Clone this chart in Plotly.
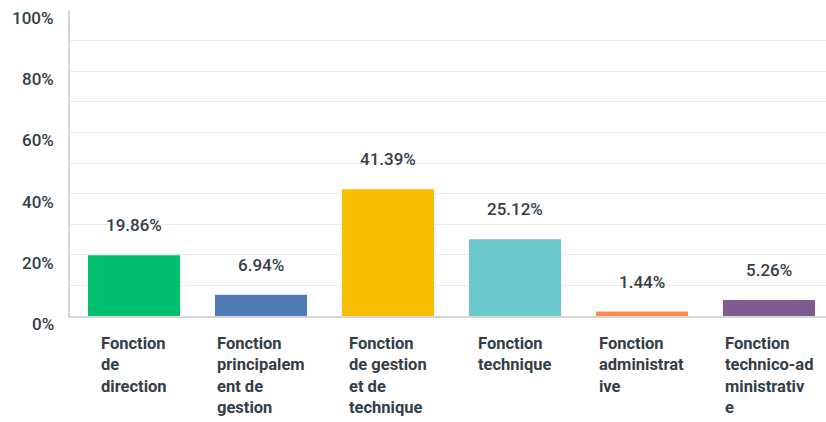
import plotly.graph_objects as go

categories = ["Fonction<br>de<br>direction",
              "Fonction<br>principalem<br>ent de<br>gestion",
              "Fonction<br>de gestion<br>et de<br>technique",
              "Fonction<br>technique",
              "Fonction<br>administrat<br>ive",
              "Fonction<br>technico-ad<br>ministrativ<br>e"]
values = [19.86, 6.94, 41.39, 25.12, 1.44, 5.26]
value_labels = ["19.86%", "6.94%", "41.39%", "25.12%", "1.44%", "5.26%"]
colors = ["#00bf6f", "#507cb6", "#f9be00", "#6bc8cd", "#ff8b4f", "#7d5b8f"]
y_ticks = [0, 20, 40, 60, 80, 100]
y_tick_labels = ["0%", "20%", "40%", "60%", "80%", "100%"]

TEXT = "#333e48"
FONT = "Roboto"

x = list(range(len(categories)))
fig = go.Figure(go.Bar(x=x, y=values, marker=dict(color=colors, line=dict(width=0)),
                       width=0.725, hoverinfo="skip"))

ann = []
for i, (v, lab) in enumerate(zip(values, value_labels)):
    ann.append(dict(x=i, y=v, xref="x", yref="y", text=lab, showarrow=False,
                    yanchor="middle", yshift=30,
                    font=dict(family=FONT, size=17, color=TEXT, weight=500)))
for i, c in enumerate(categories):
    ann.append(dict(x=i, y=0, xref="x", yref="paper", text="<b>" + c.replace("<br>", "</b><br><b>") + "</b>",
                    showarrow=False, xanchor="center", yanchor="top", align="left", yshift=-16,
                    font=dict(family=FONT, size=16.5, color=TEXT)))
for t, lab in zip(y_ticks, y_tick_labels):
    ann.append(dict(x=0, y=t, xref="paper", yref="y", text=lab, showarrow=False,
                    xanchor="right", yanchor="middle", xshift=-14, yshift=-8,
                    font=dict(family=FONT, size=17, color=TEXT, weight=500)))

fig.update_layout(
    width=826, height=422,
    margin=dict(l=70, r=0, t=10, b=106),
    paper_bgcolor="white", plot_bgcolor="white",
    showlegend=False,
    annotations=ann,
    xaxis=dict(range=[-0.504, 5.449], showticklabels=False, showgrid=False, zeroline=False,
               showline=True, linecolor="#d6d6d6", linewidth=2, fixedrange=True),
    yaxis=dict(range=[0, 100], tickvals=list(range(10, 100, 10)), showticklabels=False,
               showgrid=True, gridcolor="#ebebeb", gridwidth=1, zeroline=False,
               showline=True, linecolor="#d6d6d6", linewidth=2, fixedrange=True),
)
fig.write_html("out.html", config={"displayModeBar": False},
               post_script="document.body.style.margin='0';document.body.style.overflow='hidden';")
